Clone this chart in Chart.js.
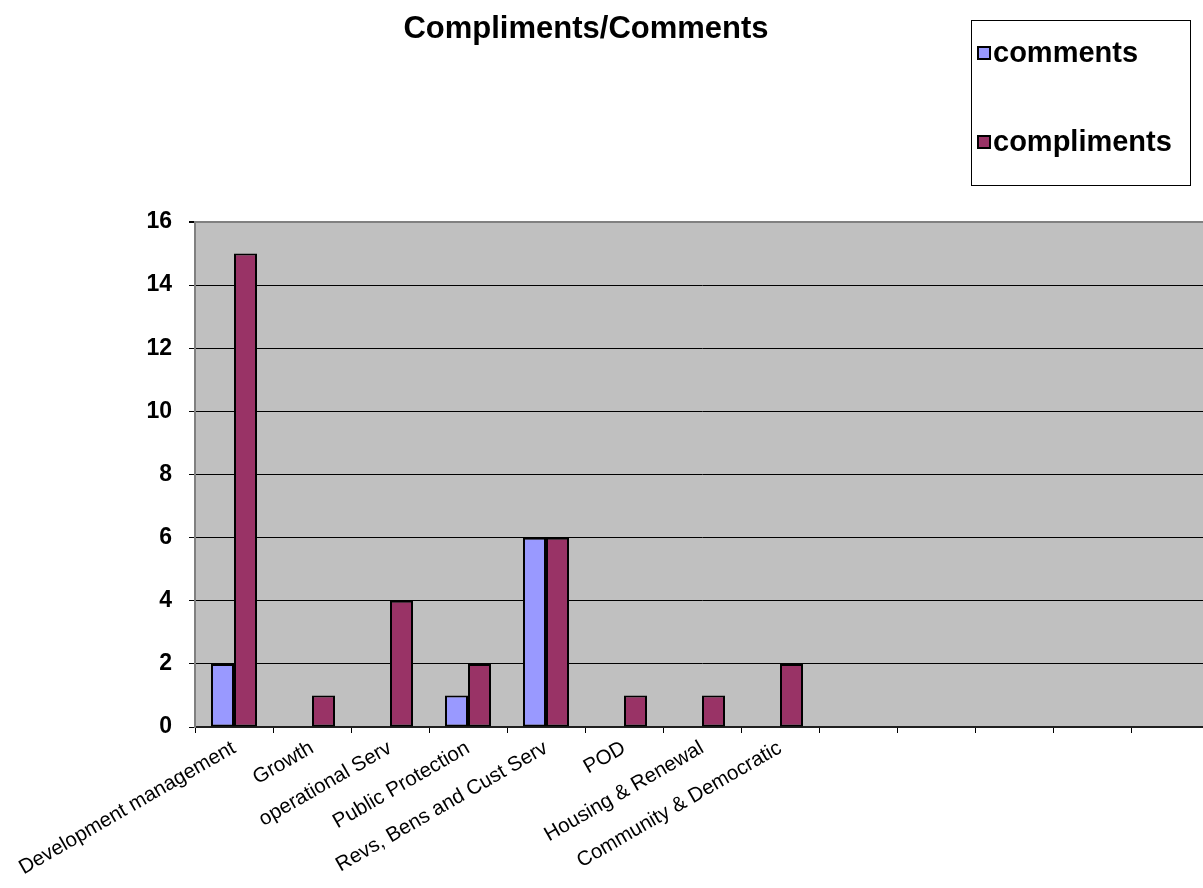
<!DOCTYPE html>
<html><head><meta charset="utf-8">
<script src="https://cdn.jsdelivr.net/npm/chart.js@4/dist/chart.umd.min.js"></script>
<style>
html,body{margin:0;padding:0;background:#fff;overflow:hidden;width:1203px;height:888px}
#wrap{width:1215px;height:888px}
</style>
</head><body><div id="wrap"><canvas id="c" width="1215" height="888"></canvas></div>
<script>
const chartTitle = "Compliments/Comments";
const categories = ["Development management","Growth","operational Serv","Public Protection","Revs, Bens and Cust Serv","POD","Housing & Renewal","Community & Democratic","","","","",""];
const comments    = [2, null, null, 1, 6, null, null, null, null, null, null, null, null];
const compliments = [15, 1, 4, 2, 6, 1, 1, 2, null, null, null, null, null];
const yMin = 0, yMax = 16, yStep = 2;

const FONT = "'Liberation Sans', Arial, sans-serif";

const decor = {
  id: 'decor',
  beforeDraw(chart) {
    const {ctx, chartArea: a} = chart;
    ctx.save();
    ctx.fillStyle = '#C0C0C0';
    ctx.fillRect(a.left, a.top, a.right - a.left, a.bottom - a.top);
    ctx.restore();
  },
  afterDraw(chart) {
    const ctx = chart.ctx;
    ctx.save();
    // title
    ctx.fillStyle = '#000';
    ctx.font = "bold 31px " + FONT;
    ctx.textAlign = 'center';
    ctx.textBaseline = 'middle';
    ctx.fillText(chartTitle, 586, 29);
    // legend box
    ctx.strokeStyle = '#000';
    ctx.lineWidth = 1;
    ctx.strokeRect(971.5, 20.5, 219, 165);
    const ys = [53, 142];
    chart.data.datasets.forEach((ds, i) => {
      const y = ys[i];
      ctx.fillStyle = ds.backgroundColor;
      ctx.fillRect(978, y - 6, 12, 12);
      ctx.lineWidth = 2;
      ctx.strokeStyle = '#000';
      ctx.strokeRect(978, y - 6, 12, 12);
      ctx.fillStyle = '#000';
      ctx.font = "bold 29px " + FONT;
      ctx.textAlign = 'left';
      ctx.textBaseline = 'middle';
      ctx.fillText(ds.label, 993, y + 1);
    });
    ctx.restore();
  }
};

new Chart(document.getElementById('c'), {
  type: 'bar',
  data: {
    labels: categories,
    datasets: [
      {label: 'comments', data: comments, backgroundColor: '#9999FF', borderColor: '#000', borderWidth: 2, borderSkipped: false},
      {label: 'compliments', data: compliments, backgroundColor: '#993366', borderColor: '#000', borderWidth: 2, borderSkipped: false}
    ]
  },
  options: {
    responsive: false,
    animation: false,
    devicePixelRatio: 1,
    categoryPercentage: 0.59,
    barPercentage: 1.0,
    layout: {padding: {top: 222, right: 6, left: 0, bottom: 0}},
    plugins: {legend: {display: false}, title: {display: false}, tooltip: {enabled: false}},
    scales: {
      x: {
        grid: {display: true, drawOnChartArea: false, tickLength: 6, color: '#000', offset: true},
        border: {color: '#202020', width: 2},
        ticks: {color: '#000', font: {family: FONT, size: 20.5}, minRotation: 30, maxRotation: 30, padding: 3, autoSkip: false},
        afterFit(s) { s.height = 161; }
      },
      y: {
        min: yMin, max: yMax,
        grid: {color: c => (c.tick && c.tick.value === yMax) ? '#808080' : '#000', lineWidth: c => (c.tick && c.tick.value === yMax) ? 2 : 1, tickColor: '#000', tickLength: 6},
        border: {color: '#808080', width: 2},
        ticks: {stepSize: yStep, color: '#000', font: {family: FONT, size: 23, weight: 'bold'}, padding: 17},
        afterFit(s) { s.width = 195; }
      }
    }
  },
  plugins: [decor]
});
</script>
</body></html>
